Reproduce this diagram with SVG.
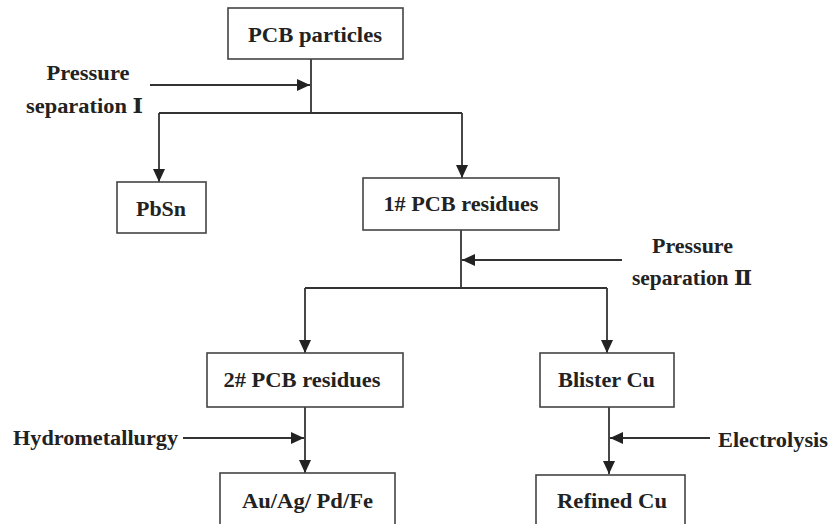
<svg xmlns="http://www.w3.org/2000/svg" width="833" height="524" viewBox="0 0 833 524">
<defs>
<style>
.box{fill:#fff;stroke:#444;stroke-width:1.6}
.t{font-family:"Liberation Serif","DejaVu Serif","Noto Sans CJK SC",serif;font-weight:bold;font-size:20px;fill:#222}
.c{fill:none;stroke:#333;stroke-width:1.8}
.tm{text-anchor:middle}
</style>
<marker id="ah" markerUnits="userSpaceOnUse" markerWidth="14" markerHeight="12" refX="13" refY="6" orient="auto">
<path d="M0,0 L13,6 L0,12 Z" fill="#222"/>
</marker>
</defs>
<rect width="833" height="524" fill="#fff"/>
<g id="connectors">
<line class="c" x1="311" y1="59" x2="311" y2="113"/>
<line class="c" x1="150" y1="85" x2="310" y2="85" marker-end="url(#ah)"/>
<line class="c" x1="159" y1="113" x2="462" y2="113"/>
<line class="c" x1="159" y1="113" x2="159" y2="182" marker-end="url(#ah)"/>
<line class="c" x1="462" y1="113" x2="462" y2="178" marker-end="url(#ah)"/>
<line class="c" x1="461" y1="230" x2="461" y2="288"/>
<line class="c" x1="622" y1="260" x2="462" y2="260" marker-end="url(#ah)"/>
<line class="c" x1="305" y1="288" x2="607" y2="288"/>
<line class="c" x1="305" y1="288" x2="305" y2="353" marker-end="url(#ah)"/>
<line class="c" x1="607" y1="288" x2="607" y2="353" marker-end="url(#ah)"/>
<line class="c" x1="305" y1="407" x2="305" y2="473" marker-end="url(#ah)"/>
<line class="c" x1="183" y1="438" x2="304" y2="438" marker-end="url(#ah)"/>
<line class="c" x1="609" y1="407" x2="609" y2="474" marker-end="url(#ah)"/>
<line class="c" x1="710" y1="438" x2="610" y2="438" marker-end="url(#ah)"/>
</g>
<g id="pcb-particles">
<rect class="box" x="228" y="8" width="175" height="51"/>
<text class="t tm" x="315" y="42" textLength="134" lengthAdjust="spacingAndGlyphs">PCB particles</text>
</g>
<g id="pressure-sep-1">
<text class="t tm" x="88" y="80" textLength="83" lengthAdjust="spacingAndGlyphs">Pressure</text>
<text class="t tm" x="84.500" y="113" textLength="117" lengthAdjust="spacingAndGlyphs">separation Ⅰ</text>
</g>
<g id="pbsn">
<rect class="box" x="117" y="182" width="89" height="51"/>
<text class="t tm" x="161" y="216" textLength="50" lengthAdjust="spacingAndGlyphs">PbSn</text>
</g>
<g id="pcb-residues-1">
<rect class="box" x="363" y="178" width="196" height="52"/>
<text class="t tm" x="461" y="211" textLength="155" lengthAdjust="spacingAndGlyphs">1# PCB residues</text>
</g>
<g id="pressure-sep-2">
<text class="t tm" x="692.500" y="253" textLength="81" lengthAdjust="spacingAndGlyphs">Pressure</text>
<text class="t tm" x="692" y="285" textLength="120" lengthAdjust="spacingAndGlyphs">separation Ⅱ</text>
</g>
<g id="pcb-residues-2">
<rect class="box" x="207" y="353" width="196" height="54"/>
<text class="t tm" x="302" y="387" textLength="157" lengthAdjust="spacingAndGlyphs">2# PCB residues</text>
</g>
<g id="blister-cu">
<rect class="box" x="540" y="353" width="134" height="54"/>
<text class="t tm" x="606.500" y="387" textLength="97" lengthAdjust="spacingAndGlyphs">Blister Cu</text>
</g>
<g id="hydrometallurgy">
<text class="t" x="13" y="445" textLength="165" lengthAdjust="spacingAndGlyphs">Hydrometallurgy</text>
</g>
<g id="electrolysis">
<text class="t" x="718" y="447" textLength="110" lengthAdjust="spacingAndGlyphs">Electrolysis</text>
</g>
<g id="au-ag-pd-fe">
<rect class="box" x="220" y="473" width="175" height="60"/>
<text class="t tm" x="307.500" y="508" textLength="131" lengthAdjust="spacingAndGlyphs">Au/Ag/ Pd/Fe</text>
</g>
<g id="refined-cu">
<rect class="box" x="536" y="475" width="149" height="60"/>
<text class="t tm" x="612" y="508" textLength="110" lengthAdjust="spacingAndGlyphs">Refined Cu</text>
</g>
</svg>
